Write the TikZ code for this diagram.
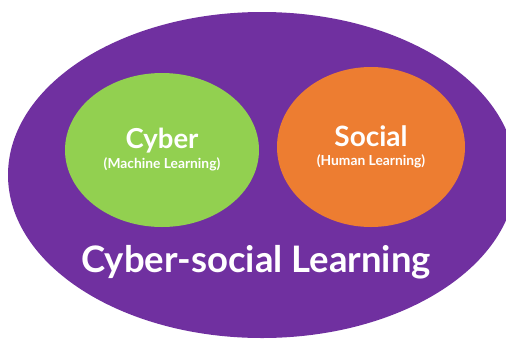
\documentclass[tikz,border=0pt]{standalone}
\usepackage{fontspec}
\setmainfont{Lato}
\usetikzlibrary{shapes.geometric}
\definecolor{cspurple}{HTML}{7030A0}
\definecolor{csgreen}{HTML}{92D050}
\definecolor{csorange}{HTML}{ED7D31}
\begin{document}
\begin{tikzpicture}[x=1pt, y=-1pt,
  blob/.style={ellipse, inner sep=0pt, draw=none},
  label/.style={text=white, font=\bfseries, inner sep=0pt}]
% Set the page size
\useasboundingbox (0,0) rectangle (506,338);
\clip (0,0) rectangle (506,338);

% Draw the ellipses
\node[blob, fill=cspurple, minimum width=508pt, minimum height=326pt] (whole) at (262,175) {};
\node[blob, fill=csgreen, minimum width=194pt, minimum height=154pt] (cyber) at (162,150) {};
\node[blob, fill=csorange, minimum width=188pt, minimum height=160pt] (social) at (371,147) {};

% Insert the texts
\node[label, font=\bfseries\fontsize{27.5}{30}\selectfont, anchor=base] (cybertitle) at (162,148) {Cyber};
\node[label, font=\bfseries\fontsize{13.8}{16}\selectfont, anchor=base] (cybersub) at (162,168) {(Machine Learning)};
\node[label, font=\bfseries\fontsize{28}{30}\selectfont, anchor=base] (socialtitle) at (371,146) {Social};
\node[label, font=\bfseries\fontsize{13.8}{16}\selectfont, anchor=base] (socialsub) at (371,165) {(Human Learning)};
\node[label, font=\bfseries\fontsize{36.5}{40}\selectfont, anchor=base] (wholetitle) at (256,272) {Cyber-social Learning};
\end{tikzpicture}
\end{document}
